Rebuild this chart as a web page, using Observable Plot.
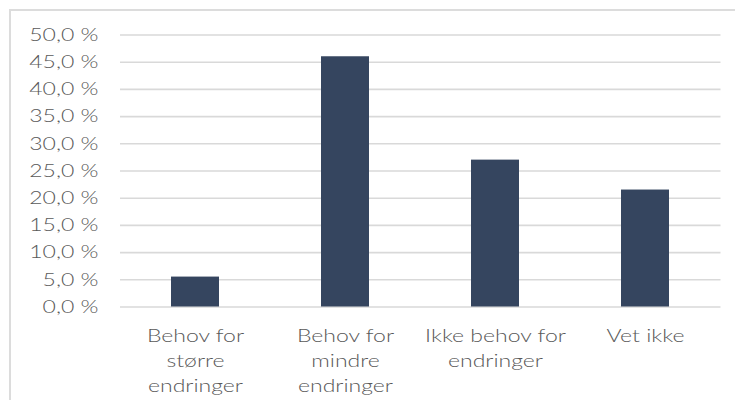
<!DOCTYPE html>
<html>
<head>
<meta charset="utf-8">
<script src="https://cdn.jsdelivr.net/npm/d3@7"></script>
<script src="https://cdn.jsdelivr.net/npm/@observablehq/plot@0.6"></script>
<style>
  html, body { margin: 0; padding: 0; background: #fff; width: 735px; height: 400px; overflow: hidden; }
  #frame { position: absolute; left: 9px; top: 9px; width: 740px; height: 400px;
           border-left: 2px solid #dcdcdc; border-top: 2px solid #dcdcdc; }
  #chart { position: absolute; left: 0; top: 0; }
  #chart svg text { font-weight: 300; }
</style>
</head>
<body>
<div id="frame"></div>
<div id="chart"></div>
<script>
// Answer categories and the share of respondents for each (percent)
const categories = ["Behov for større endringer", "Behov for mindre endringer", "Ikke behov for endringer", "Vet ikke"];
const axisLabels = ["Behov for\nstørre\nendringer", "Behov for\nmindre\nendringer", "Ikke behov for\nendringer", "Vet ikke"];
const shares = [5.5, 46.0, 27.0, 21.5];
const yTicks = [0, 5, 10, 15, 20, 25, 30, 35, 40, 45, 50];

const rows = categories.map((c, i) => ({category: c, share: shares[i]}));
const labelOf = new Map(categories.map((c, i) => [c, axisLabels[i]]));
const pct = d => d.toFixed(1).replace(".", ",") + " %";

const chart = Plot.plot({
  width: 735,
  height: 400,
  marginLeft: 120,
  marginRight: 14.5,
  marginTop: 34.5,
  marginBottom: 93.5,
  style: {fontFamily: "Lato, sans-serif", color: "#595959", background: "transparent"},
  x: {domain: categories, paddingInner: 0.683, paddingOuter: 0.3415, align: 0.5},
  y: {domain: [0, 50]},
  marks: [
    Plot.gridY(yTicks, {stroke: "#d9d9d9", strokeWidth: 1.6, strokeOpacity: 1}),
    Plot.barY(rows, {x: "category", y: "share", fill: "#35455f"}),
    Plot.axisY(yTicks, {tickSize: 0, tickPadding: 22, tickFormat: pct, fontSize: 18, fill: "#595959", label: null}),
    Plot.axisX({tickSize: 0, tickPadding: 17, tickFormat: c => labelOf.get(c), fontSize: 18, lineHeight: 1.39, fill: "#595959", label: null})
  ]
});

// The label face is a broad one: widen the axis text about its anchor point
d3.select(chart).selectAll("g[aria-label$='tick label'] text").attr("transform", function () {
  return (this.getAttribute("transform") || "") + " scale(1.28,1)";
});
document.getElementById("chart").appendChild(chart);
</script>
</body>
</html>
